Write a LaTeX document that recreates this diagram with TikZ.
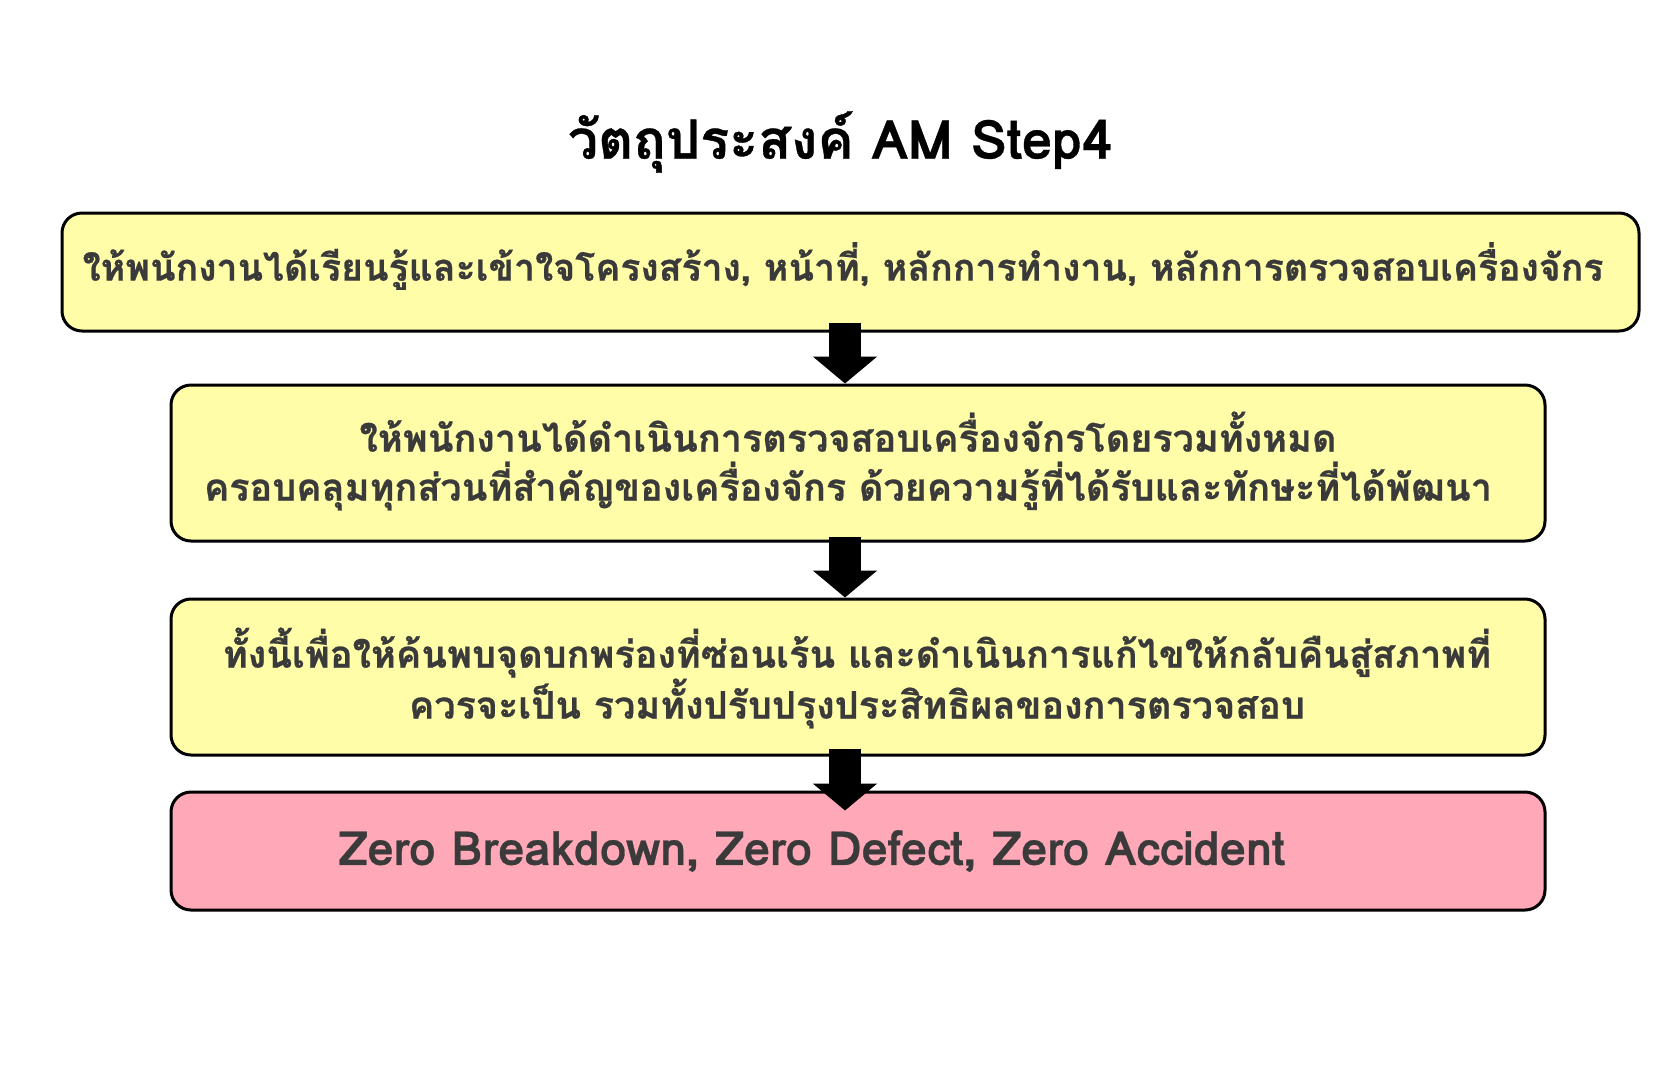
\documentclass[tikz,border=0pt]{standalone}
\usepackage{fontspec}
\newfontfamily\thaifont[Script=Thai]{Loma}
\newfontfamily\thaiheavy[Script=Thai,FakeBold=0.6]{Loma}
\usetikzlibrary{arrows.meta}
\definecolor{boxyellow}{HTML}{FFFDA8}
\definecolor{boxpink}{HTML}{FFA9B8}
\definecolor{txtgray}{HTML}{3A3A3A}
\begin{document}
\begin{tikzpicture}[x=1pt,y=-1pt,
  box/.style={draw=black, line width=3pt, rounded corners=20pt, inner sep=0pt},
  ybox/.style={box, fill=boxyellow},
  pbox/.style={box, fill=boxpink},
  txt/.style={text=txtgray, inner sep=0pt, align=center, font=\thaiheavy\bfseries\fontsize{37.8}{49}\selectfont},
  bigarrow/.style={draw=black, line width=32pt, -{Triangle[width=63pt,length=27pt]}}]
\useasboundingbox (0,0) rectangle (1680,1080);
\fill[white] (0,0) rectangle (1680,1080);
\node[inner sep=0pt, font=\thaiheavy\bfseries\fontsize{54}{64}\selectfont] (title) at (840,142) {วัตถุประสงค์ AM Step4};
\node[ybox, minimum width=1577pt, minimum height=118pt] (b1) at (850.5,272) {};
\node[ybox, minimum width=1374pt, minimum height=156pt] (b2) at (858,463) {};
\node[ybox, minimum width=1374pt, minimum height=156pt] (b3) at (858,677) {};
\node[pbox, minimum width=1374pt, minimum height=118pt] (b4) at (858,851) {};
\node[txt, font=\thaiheavy\bfseries\fontsize{37.4}{49}\selectfont] (t1) at (843,266) {ให้พนักงานได้เรียนรู้และเข้าใจโครงสร้าง, หน้าที่, หลักการทำงาน, หลักการตรวจสอบเครื่องจักร};
\node[txt] (t2) at (848,461) {ให้พนักงานได้ดำเนินการตรวจสอบเครื่องจักรโดยรวมทั้งหมด\\ครอบคลุมทุกส่วนที่สำคัญของเครื่องจักร ด้วยความรู้ที่ได้รับและทักษะที่ได้พัฒนา};
\node[txt] (t3) at (857,678) {ทั้งนี้เพื่อให้ค้นพบจุดบกพร่องที่ซ่อนเร้น และดำเนินการแก้ไขให้กลับคืนสู่สภาพที่\\ควรจะเป็น รวมทั้งปรับปรุงประสิทธิผลของการตรวจสอบ};
\node[txt, font=\thaiheavy\bfseries\fontsize{47}{56}\selectfont] (t4) at (812,851) {Zero Breakdown, Zero Defect, Zero Accident};
\draw[bigarrow] ([xshift=-5.5pt,yshift=10pt]b1.south) -- ([xshift=-13pt]b2.north);
\draw[bigarrow] ([xshift=-13pt,yshift=6pt]b2.south) -- ([xshift=-13pt]b3.north);
\draw[bigarrow] ([xshift=-13pt,yshift=8pt]b3.south) -- ([xshift=-13pt,yshift=-20pt]b4.north);
\end{tikzpicture}
\end{document}
